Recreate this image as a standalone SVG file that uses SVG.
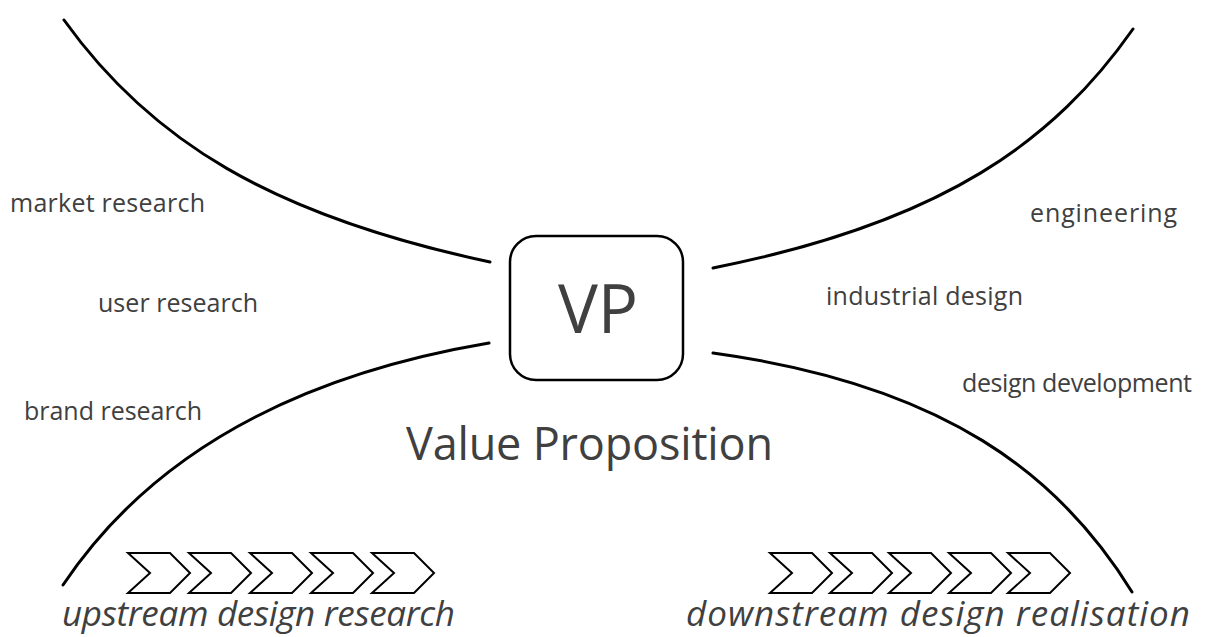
<svg xmlns="http://www.w3.org/2000/svg" width="1208" height="637" viewBox="0 0 1208 637">
<style>
.lbl{font-family:"Open Sans","Liberation Sans",sans-serif;font-size:25px;fill:#404040}
.big{font-family:"Open Sans","Liberation Sans",sans-serif;fill:#404040}
.it{font-family:"Open Sans","Liberation Sans",sans-serif;font-style:italic;font-size:35px;fill:#404040}
.curve{fill:none;stroke:#000;stroke-width:3;stroke-linecap:round}
.chev{fill:#fff;stroke:#000;stroke-width:2;stroke-linejoin:miter}
</style>
<defs>
<path id="chev" d="M0,0 L42,0 L62,20 L42,40 L0,40 L22,20 Z"/>
</defs>
<rect width="1208" height="637" fill="#fff"/>
<g id="connectors">
<path class="curve" d="M64,20 C150,140 270,215 490,262"/>
<path class="curve" d="M1133,29 C1055,140 945,222 713,268"/>
<path class="curve" d="M63,585 C140,470 270,380 489,343"/>
<path class="curve" d="M1132,592 C1060,475 945,385 713,353"/>
</g>
<g id="vp">
<rect x="510" y="236" width="173" height="144" rx="26" ry="26" fill="#fff" stroke="#000" stroke-width="2.5"/>
<text class="big" x="598" y="333" font-size="67" text-anchor="middle">VP</text>
</g>
<g id="value-proposition"><text class="big" x="406" y="460" font-size="45" textLength="367" lengthAdjust="spacing">Value Proposition</text></g>
<g id="market-research"><text class="lbl" x="10" y="212" textLength="195" lengthAdjust="spacing">market research</text></g>
<g id="user-research"><text class="lbl" x="98" y="312" textLength="160" lengthAdjust="spacing">user research</text></g>
<g id="brand-research"><text class="lbl" x="24" y="420" textLength="178" lengthAdjust="spacing">brand research</text></g>
<g id="engineering"><text class="lbl" x="1030" y="222" textLength="147" lengthAdjust="spacing">engineering</text></g>
<g id="industrial-design"><text class="lbl" x="826" y="305" textLength="197" lengthAdjust="spacing">industrial design</text></g>
<g id="design-development"><text class="lbl" x="962" y="392" textLength="230" lengthAdjust="spacing">design development</text></g>
<g id="upstream">
<use href="#chev" class="chev" x="128" y="553"/>
<use href="#chev" class="chev" x="189" y="553"/>
<use href="#chev" class="chev" x="250" y="553"/>
<use href="#chev" class="chev" x="311" y="553"/>
<use href="#chev" class="chev" x="372" y="553"/>
<text class="it" x="62" y="626" textLength="393" lengthAdjust="spacing">upstream design research</text>
</g>
<g id="downstream">
<use href="#chev" class="chev" x="770" y="553"/>
<use href="#chev" class="chev" x="830" y="553"/>
<use href="#chev" class="chev" x="889" y="553"/>
<use href="#chev" class="chev" x="949" y="553"/>
<use href="#chev" class="chev" x="1008" y="553"/>
<text class="it" x="686" y="626" textLength="504" lengthAdjust="spacing">downstream design realisation</text>
</g>
</svg>
